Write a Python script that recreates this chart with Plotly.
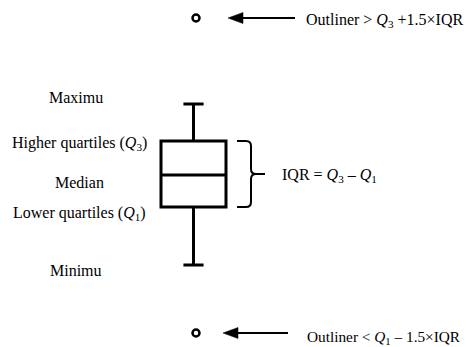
import plotly.graph_objects as go

# ---- data (schematic values, higher = further up the chart) ----
stat_names = ["Minimum", "Q1", "Median", "Q3", "Maximum"]
stat_values = [82, 140, 172, 206, 243]
outlier_values = [329, 14]
box_position = [193.5]

label_texts = ["Maximu",
               "Higher quartiles (<i>Q</i><sub>3</sub>)",
               "Median",
               "Lower quartiles (<i>Q</i><sub>1</sub>)",
               "Minimu"]
outlier_texts = ["Outliner &gt; <i>Q</i><sub>3</sub> +1.5×IQR",
                 "Outliner &lt; <i>Q</i><sub>1</sub> – 1.5×IQR"]
iqr_text = "IQR = <i>Q</i><sub>3</sub> – <i>Q</i><sub>1</sub>"

W, H = 467, 347
vmin, q1, med, q3, vmax = stat_values
FONT = dict(family="Liberation Serif, Times New Roman, serif", size=16, color="black")

fig = go.Figure()
fig.add_trace(go.Box(
    x=box_position, q1=[q1], median=[med], q3=[q3],
    lowerfence=[vmin], upperfence=[vmax],
    width=65, whiskerwidth=0.31, boxpoints=False,
    line=dict(color="black", width=3), fillcolor="white",
    hoverinfo="skip", orientation="v"))

ox = box_position[0] + 2.5
fig.add_trace(go.Scatter(
    x=[ox] * len(outlier_values), y=outlier_values, mode="markers",
    marker=dict(symbol="circle-open", size=7, color="black", line=dict(width=2.5, color="black")),
    hoverinfo="skip"))

shapes = []
annotations = []

# arrows pointing to outliers
arrow_specs = [(228, 295), (223, 288)]
for yv, (tip, tail) in zip(outlier_values, arrow_specs):
    shapes.append(dict(type="line", xref="x", yref="y", x0=tip + 13, x1=tail, y0=yv, y1=yv,
                       line=dict(color="black", width=2)))
    shapes.append(dict(type="path", xref="x", yref="y",
                       path=f"M {tip},{yv} L {tip+15},{yv+5.5} L {tip+15},{yv-5.5} Z",
                       fillcolor="black", line=dict(color="black", width=0.5)))

# outlier descriptions
text_pos = [(304, outlier_values[0] - 2, 16), (305, outlier_values[1] - 4, 15.3)]
for t, (tx, ty, fs) in zip(outlier_texts, text_pos):
    annotations.append(dict(x=tx, y=ty, xref="x", yref="y", text=t, showarrow=False,
                            xanchor="left", yanchor="middle", font=dict(FONT, size=fs)))

# brace for IQR
mid = (q1 + q3) / 2
bx0, bx1, bt = 237, 251, 265
brace = (f"M {bx0},{q3} L {bx1-5},{q3} Q {bx1},{q3} {bx1},{q3-5} L {bx1},{mid+5} "
         f"Q {bx1},{mid} {bx1+5},{mid} L {bt},{mid} M {bx1+5},{mid} Q {bx1},{mid} {bx1},{mid-5} "
         f"L {bx1},{q1+5} Q {bx1},{q1} {bx1-5},{q1} L {bx0},{q1}")
shapes.append(dict(type="path", xref="x", yref="y", path=brace,
                   line=dict(color="black", width=2)))
annotations.append(dict(x=280, y=mid - 1, xref="x", yref="y", text=iqr_text, showarrow=False,
                        xanchor="left", yanchor="middle", font=FONT))

# left labels
label_pos = [(76, H - 97), (79, H - 143), (79.5, H - 182), (79.5, H - 213), (76, H - 270)]
for t, (lx, ly) in zip(label_texts, label_pos):
    annotations.append(dict(x=lx, y=ly, xref="x", yref="y", text=t, showarrow=False,
                            xanchor="center", yanchor="middle", font=FONT))

fig.update_layout(
    width=W, height=H, margin=dict(l=0, r=0, t=0, b=0),
    paper_bgcolor="white", plot_bgcolor="white", showlegend=False,
    xaxis=dict(range=[0, W], visible=False, fixedrange=True),
    yaxis=dict(range=[0, H], visible=False, fixedrange=True),
    shapes=shapes, annotations=annotations,
)
fig.write_html("out.html", config={"displayModeBar": False},
               post_script="document.body.style.margin='0';document.body.style.overflow='hidden';")
